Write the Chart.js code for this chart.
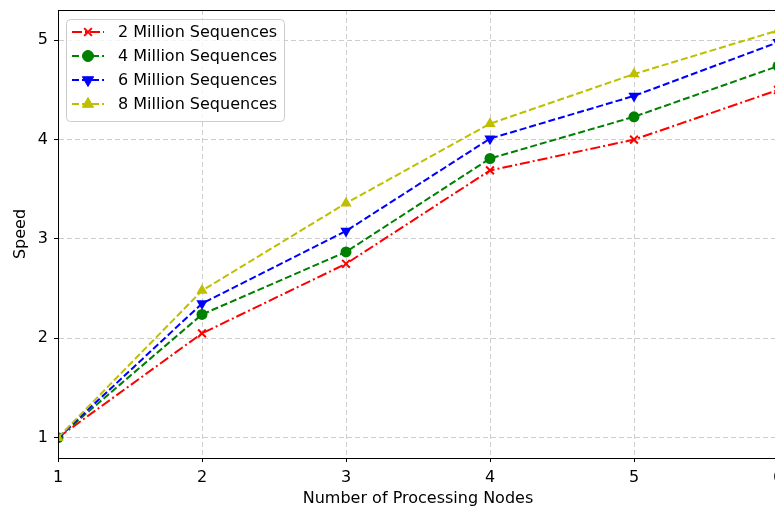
<!DOCTYPE html>
<html><head><meta charset="utf-8">
<script src="https://cdn.jsdelivr.net/npm/chart.js@4/dist/chart.umd.min.js"></script>
<style>html,body{margin:0;padding:0;overflow:hidden;background:#fff;width:775px;height:510px}#wrap{width:800px;height:510px}</style>
</head><body><div id="wrap"><canvas id="c" width="800" height="510"></canvas></div>
<script>
const nodes = [1, 2, 3, 4, 5, 6];
const seq2M = [1.00, 2.05, 2.75, 3.69, 4.00, 4.50];
const seq4M = [1.00, 2.24, 2.87, 3.81, 4.23, 4.74];
const seq6M = [1.00, 2.35, 3.08, 4.01, 4.44, 4.98];
const seq8M = [1.00, 2.48, 3.36, 4.16, 4.66, 5.10];
const seriesLabels = ['2 Million Sequences', '4 Million Sequences', '6 Million Sequences', '8 Million Sequences'];
const xTicks = [1, 2, 3, 4, 5, 6];
const yTicks = [1, 2, 3, 4, 5];

const FONT = 'DejaVu Sans';
const FS = 16;
const pts = arr => arr.map((v, i) => ({x: nodes[i], y: v}));
const dashed = [7, 3];
const dashdot = [10, 3, 2, 3];

const datasets = [
  {label: seriesLabels[0], data: pts(seq2M), borderColor: '#ff0000', backgroundColor: '#ff0000', borderDash: dashdot, pointStyle: 'crossRot', pointRadius: 5.5, pointBorderWidth: 2, order: 4},
  {label: seriesLabels[1], data: pts(seq4M), borderColor: '#008000', backgroundColor: '#008000', borderDash: dashed, pointStyle: 'circle', pointRadius: 5.5, pointBorderWidth: 0, order: 3},
  {label: seriesLabels[2], data: pts(seq6M), borderColor: '#0000ff', backgroundColor: '#0000ff', borderDash: dashed, pointStyle: 'triangle', rotation: 180, pointRadius: 6.5, pointBorderWidth: 0, order: 2},
  {label: seriesLabels[3], data: pts(seq8M), borderColor: '#bfbf00', backgroundColor: '#bfbf00', borderDash: dashed, pointStyle: 'triangle', pointRadius: 6.5, pointBorderWidth: 0, order: 1}
].map(d => Object.assign({borderWidth: 2, tension: 0, fill: false, pointHoverRadius: d.pointRadius}, d));

const frame = {
  id: 'frame',
  afterDatasetsDraw(chart) {
    const {ctx, chartArea: a} = chart;
    ctx.save();
    ctx.strokeStyle = '#000'; ctx.lineWidth = 1;
    ctx.strokeRect(a.left + 0.5, a.top + 0.5, a.right - a.left, a.bottom - a.top);
    // legend
    const x0 = 66, y0 = 19, w = 218, h = 102, r = 4;
    ctx.beginPath();
    ctx.roundRect(x0 + 0.5, y0 + 0.5, w, h, r);
    ctx.fillStyle = 'rgba(255,255,255,0.8)'; ctx.fill();
    ctx.strokeStyle = '#cccccc'; ctx.lineWidth = 1; ctx.stroke();
    ctx.font = FS + 'px "' + FONT + '"';
    ctx.textBaseline = 'middle';
    chart.data.datasets.forEach((ds, i) => {
      const y = 32 + i * 24;
      ctx.save();
      ctx.strokeStyle = ds.borderColor; ctx.lineWidth = 2;
      ctx.setLineDash(ds.borderDash);
      ctx.beginPath(); ctx.moveTo(72, y); ctx.lineTo(104, y); ctx.stroke();
      ctx.restore();
      ctx.save();
      ctx.setLineDash([]);
      ctx.fillStyle = ds.backgroundColor; ctx.strokeStyle = ds.borderColor;
      ctx.lineWidth = ds.pointStyle === 'crossRot' ? 2 : 0;
      Chart.helpers.drawPoint(ctx, {pointStyle: ds.pointStyle, rotation: ds.rotation || 0, radius: ds.pointRadius, borderWidth: ctx.lineWidth}, 88, y);
      ctx.restore();
      ctx.fillStyle = '#000';
      ctx.fillText(ds.label, 118, y + 1);
    });
    ctx.restore();
  }
};

const gridCfg = {color: 'rgba(200,200,200,0.9)', lineWidth: 1, tickLength: 4, tickColor: '#000', tickBorderDash: [], tickWidth: 1, drawTicks: true};
const borderCfg = {display: true, color: '#000', width: 1, dash: [5, 3]};

new Chart(document.getElementById('c'), {
  type: 'line',
  data: {datasets},
  options: {
    responsive: false, animation: false, devicePixelRatio: 1,
    layout: {padding: {left: 0, right: 22, top: 10, bottom: 0}},
    plugins: {legend: {display: false}, tooltip: {enabled: false}},
    scales: {
      x: {
        type: 'linear', min: 1, max: 6,
        grid: gridCfg,
        border: borderCfg,
        ticks: {stepSize: 1, color: '#000', font: {family: FONT, size: FS}, padding: 6, maxRotation: 0},
        afterBuildTicks: s => { s.ticks = xTicks.map(v => ({value: v})); },
        afterFit: s => { s.height = 52; s.paddingLeft = 0; s.paddingRight = 0; },
        title: {display: true, text: 'Number of Processing Nodes', color: '#000', font: {family: FONT, size: FS}, padding: {top: 0, bottom: 2}}
      },
      y: {
        type: 'linear', min: 0.795, max: 5.305,
        grid: gridCfg,
        border: borderCfg,
        ticks: {stepSize: 1, color: '#000', font: {family: FONT, size: FS}, padding: 6},
        afterBuildTicks: s => { s.ticks = yTicks.map(v => ({value: v})); },
        afterFit: s => { s.width = 58; s.paddingTop = 0; s.paddingBottom = 0; },
        title: {display: true, text: 'Speed', color: '#000', font: {family: FONT, size: FS}, padding: {top: 11, bottom: 0}}
      }
    }
  },
  plugins: [frame]
});
</script></body></html>
